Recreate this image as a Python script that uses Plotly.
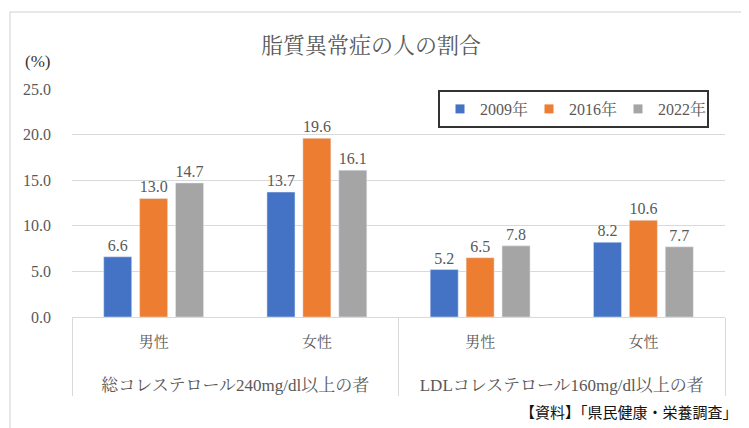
import plotly.graph_objects as go

# データ
groups = ["総コレステロール240mg/dl以上の者", "総コレステロール240mg/dl以上の者",
          "LDLコレステロール160mg/dl以上の者", "LDLコレステロール160mg/dl以上の者"]
sexes = ["男性", "女性", "男性", "女性"]
years = ["2009年", "2016年", "2022年"]
v2009 = [6.6, 13.7, 5.2, 8.2]
v2016 = [13.0, 19.6, 6.5, 10.6]
v2022 = [14.7, 16.1, 7.8, 7.7]
colors = ["#4472C4", "#ED7D31", "#A5A5A5"]

FONT = "Liberation Serif, Noto Serif CJK JP, Noto Sans CJK JP, serif"
GRAY = "#595959"

# ページ余白(8px)の分だけずらす
W, H = 741, 420
PL, PR, PT, PB = 72, 725, 89, 317  # プロット領域（画面上の位置）


def px_x(x):
    return (x - PL) / (PR - PL)


def px_y(y):
    return (PB - y) / (PB - PT)


# 2段の軸ラベル（2段目は大きめ、間隔をあける）
group_labels = ["<span style='font-size:17px'>" + g + "</span>" for g in groups]
sex_labels = [s + "<br>\u3000<br><span style='font-size:3px'>\u3000</span>" for s in sexes]

fig = go.Figure()
for name, vals, c in zip(years, [v2009, v2016, v2022], colors):
    fig.add_trace(go.Bar(
        x=[group_labels, sex_labels], y=vals, name=name, marker_color=c,
        texttemplate="%{y:.1f}", textposition="outside",
        textfont=dict(color=GRAY, size=16, family=FONT),
        cliponaxis=False, showlegend=False,
    ))
# 凡例用（小さい四角）
for name, c in zip(years, colors):
    fig.add_trace(go.Scatter(
        x=[None], y=[None], mode="markers", name=name,
        marker=dict(symbol="square", size=9, color=c),
    ))

fig.update_layout(
    width=W, height=H,
    margin=dict(l=PL - 8, r=W - (PR - 8), t=PT - 8, b=H - (PB - 8), autoexpand=False),
    paper_bgcolor="white", plot_bgcolor="white",
    barmode="group", bargap=0.34, bargroupgap=0.22,
    font=dict(family=FONT, color=GRAY, size=13),
    title=dict(text="脂質異常症の人の割合", x=0.49, xanchor="center",
               y=1 - (45 - 8) / H, yanchor="middle",
               font=dict(size=22, color=GRAY, family=FONT)),
    legend=dict(orientation="h", x=px_x(438), y=px_y(90),
                xanchor="left", yanchor="top", itemwidth=30, entrywidth=44,
                bordercolor="#333333", borderwidth=2, bgcolor="white",
                font=dict(size=16, color=GRAY, family=FONT)),
    showlegend=True,
)
fig.update_yaxes(range=[0, 25], dtick=5, tickformat=".1f", automargin=False,
                 gridcolor="#D9D9D9", gridwidth=1, zeroline=False,
                 ticks="", tickfont=dict(size=16, color=GRAY),
                 ticklabelstandoff=20)
fig.update_xaxes(showline=True, linecolor="#D9D9D9", linewidth=1, automargin=False,
                 showdividers=True, dividercolor="#D9D9D9", dividerwidth=1,
                 ticklabelstandoff=11,
                 tickfont=dict(size=15, color=GRAY))

fig.add_annotation(text="(%)", xref="paper", yref="paper", x=px_x(37),
                   y=px_y(62), xanchor="center", yanchor="middle", showarrow=False,
                   font=dict(size=17, color="#333333", family=FONT))
fig.add_annotation(text="【資料】「県民健康・栄養調査」", xref="paper", yref="paper",
                   x=px_x(740), y=px_y(411), xanchor="right", yanchor="middle",
                   showarrow=False,
                   font=dict(size=15, color="#111111", family="Noto Sans CJK JP"))
fig.add_shape(type="rect", xref="paper", yref="paper",
              x0=px_x(10), x1=px_x(746), y0=px_y(440), y1=px_y(12),
              line=dict(color="#D0D0D0", width=1), layer="below")

fig.write_html("out.html")
